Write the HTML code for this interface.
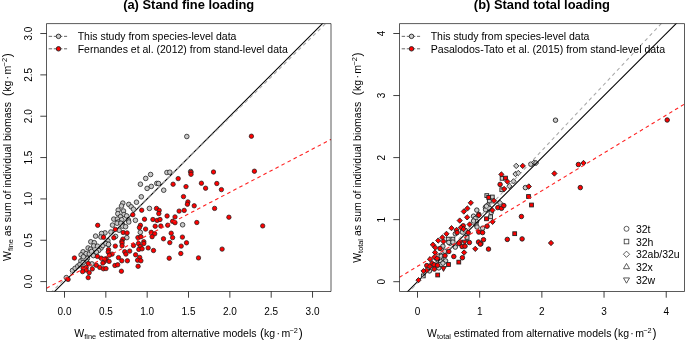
<!DOCTYPE html>
<html><head><meta charset="utf-8"><style>
html,body{margin:0;padding:0;background:#fff;width:685px;height:340px;overflow:hidden}
svg{display:block;will-change:transform}
text{font-family:"Liberation Sans",sans-serif;fill:#000}
</style></head><body>
<svg width="685" height="340" viewBox="0 0 685 340">
<rect width="685" height="340" fill="#fff"/>
<defs>
<clipPath id="cl"><rect x="46.5" y="23.6" width="284.5" height="267.9"/></clipPath>
<clipPath id="cr"><rect x="399.5" y="23.6" width="285.0" height="267.9"/></clipPath>
</defs>
<g clip-path="url(#cl)">
<circle cx="186.8" cy="136.5" r="2.3" fill="#c8c8c8" stroke="#222" stroke-width="0.8"/>
<circle cx="150.6" cy="174.5" r="2.3" fill="#c8c8c8" stroke="#222" stroke-width="0.8"/>
<circle cx="145.7" cy="178.4" r="2.3" fill="#c8c8c8" stroke="#222" stroke-width="0.8"/>
<circle cx="140.4" cy="184.2" r="2.3" fill="#c8c8c8" stroke="#222" stroke-width="0.8"/>
<circle cx="147.1" cy="188.4" r="2.3" fill="#c8c8c8" stroke="#222" stroke-width="0.8"/>
<circle cx="151.3" cy="186.4" r="2.3" fill="#c8c8c8" stroke="#222" stroke-width="0.8"/>
<circle cx="156.8" cy="183.4" r="2.3" fill="#c8c8c8" stroke="#222" stroke-width="0.8"/>
<circle cx="158.5" cy="183.5" r="2.3" fill="#c8c8c8" stroke="#222" stroke-width="0.8"/>
<circle cx="166.9" cy="172.5" r="2.3" fill="#c8c8c8" stroke="#222" stroke-width="0.8"/>
<circle cx="169.8" cy="172.2" r="2.3" fill="#c8c8c8" stroke="#222" stroke-width="0.8"/>
<circle cx="163.7" cy="190.2" r="2.3" fill="#c8c8c8" stroke="#222" stroke-width="0.8"/>
<circle cx="190.7" cy="171.5" r="2.3" fill="#c8c8c8" stroke="#222" stroke-width="0.8"/>
<circle cx="141.3" cy="196.8" r="2.3" fill="#c8c8c8" stroke="#222" stroke-width="0.8"/>
<circle cx="136.5" cy="202.2" r="2.3" fill="#c8c8c8" stroke="#222" stroke-width="0.8"/>
<circle cx="128.8" cy="204.4" r="2.3" fill="#c8c8c8" stroke="#222" stroke-width="0.8"/>
<circle cx="131.2" cy="206.8" r="2.3" fill="#c8c8c8" stroke="#222" stroke-width="0.8"/>
<circle cx="133.5" cy="209.2" r="2.3" fill="#c8c8c8" stroke="#222" stroke-width="0.8"/>
<circle cx="149.4" cy="208.4" r="2.3" fill="#c8c8c8" stroke="#222" stroke-width="0.8"/>
<circle cx="122.8" cy="203.1" r="2.3" fill="#c8c8c8" stroke="#222" stroke-width="0.8"/>
<circle cx="121.5" cy="206.0" r="2.3" fill="#c8c8c8" stroke="#222" stroke-width="0.8"/>
<circle cx="118.2" cy="210.1" r="2.3" fill="#c8c8c8" stroke="#222" stroke-width="0.8"/>
<circle cx="123.5" cy="211.0" r="2.3" fill="#c8c8c8" stroke="#222" stroke-width="0.8"/>
<circle cx="117.8" cy="213.7" r="2.3" fill="#c8c8c8" stroke="#222" stroke-width="0.8"/>
<circle cx="124.0" cy="214.5" r="2.3" fill="#c8c8c8" stroke="#222" stroke-width="0.8"/>
<circle cx="126.6" cy="215.9" r="2.3" fill="#c8c8c8" stroke="#222" stroke-width="0.8"/>
<circle cx="120.4" cy="216.7" r="2.3" fill="#c8c8c8" stroke="#222" stroke-width="0.8"/>
<circle cx="113.8" cy="219.1" r="2.3" fill="#c8c8c8" stroke="#222" stroke-width="0.8"/>
<circle cx="117.4" cy="219.1" r="2.3" fill="#c8c8c8" stroke="#222" stroke-width="0.8"/>
<circle cx="121.8" cy="219.7" r="2.3" fill="#c8c8c8" stroke="#222" stroke-width="0.8"/>
<circle cx="128.4" cy="220.0" r="2.3" fill="#c8c8c8" stroke="#222" stroke-width="0.8"/>
<circle cx="128.8" cy="222.0" r="2.3" fill="#c8c8c8" stroke="#222" stroke-width="0.8"/>
<circle cx="135.4" cy="220.3" r="2.3" fill="#c8c8c8" stroke="#222" stroke-width="0.8"/>
<circle cx="118.2" cy="222.0" r="2.3" fill="#c8c8c8" stroke="#222" stroke-width="0.8"/>
<circle cx="112.5" cy="225.1" r="2.3" fill="#c8c8c8" stroke="#222" stroke-width="0.8"/>
<circle cx="122.7" cy="224.7" r="2.3" fill="#c8c8c8" stroke="#222" stroke-width="0.8"/>
<circle cx="182.6" cy="224.8" r="2.3" fill="#c8c8c8" stroke="#222" stroke-width="0.8"/>
<circle cx="117.1" cy="223.2" r="2.3" fill="#c8c8c8" stroke="#222" stroke-width="0.8"/>
<circle cx="120.9" cy="223.2" r="2.3" fill="#c8c8c8" stroke="#222" stroke-width="0.8"/>
<circle cx="122.6" cy="226.1" r="2.3" fill="#c8c8c8" stroke="#222" stroke-width="0.8"/>
<circle cx="119.1" cy="230.2" r="2.3" fill="#c8c8c8" stroke="#222" stroke-width="0.8"/>
<circle cx="110.9" cy="232.0" r="2.3" fill="#c8c8c8" stroke="#222" stroke-width="0.8"/>
<circle cx="105.0" cy="232.9" r="2.3" fill="#c8c8c8" stroke="#222" stroke-width="0.8"/>
<circle cx="101.5" cy="233.5" r="2.3" fill="#c8c8c8" stroke="#222" stroke-width="0.8"/>
<circle cx="95.6" cy="236.1" r="2.3" fill="#c8c8c8" stroke="#222" stroke-width="0.8"/>
<circle cx="100.9" cy="237.0" r="2.3" fill="#c8c8c8" stroke="#222" stroke-width="0.8"/>
<circle cx="115.6" cy="236.4" r="2.3" fill="#c8c8c8" stroke="#222" stroke-width="0.8"/>
<circle cx="107.9" cy="240.8" r="2.3" fill="#c8c8c8" stroke="#222" stroke-width="0.8"/>
<circle cx="125.6" cy="226.7" r="2.3" fill="#c8c8c8" stroke="#222" stroke-width="0.8"/>
<circle cx="140.3" cy="232.3" r="2.3" fill="#c8c8c8" stroke="#222" stroke-width="0.8"/>
<circle cx="126.8" cy="237.6" r="2.3" fill="#c8c8c8" stroke="#222" stroke-width="0.8"/>
<circle cx="108.5" cy="244.4" r="2.3" fill="#c8c8c8" stroke="#222" stroke-width="0.8"/>
<circle cx="87.4" cy="258.5" r="2.3" fill="#c8c8c8" stroke="#222" stroke-width="0.8"/>
<circle cx="86.2" cy="260.8" r="2.3" fill="#c8c8c8" stroke="#222" stroke-width="0.8"/>
<circle cx="91.9" cy="263.9" r="2.3" fill="#c8c8c8" stroke="#222" stroke-width="0.8"/>
<circle cx="72.5" cy="270.5" r="2.3" fill="#c8c8c8" stroke="#222" stroke-width="0.8"/>
<circle cx="75.1" cy="268.3" r="2.3" fill="#c8c8c8" stroke="#222" stroke-width="0.8"/>
<circle cx="77.8" cy="266.1" r="2.3" fill="#c8c8c8" stroke="#222" stroke-width="0.8"/>
<circle cx="80.0" cy="264.4" r="2.3" fill="#c8c8c8" stroke="#222" stroke-width="0.8"/>
<circle cx="80.9" cy="260.8" r="2.3" fill="#c8c8c8" stroke="#222" stroke-width="0.8"/>
<circle cx="83.1" cy="259.1" r="2.3" fill="#c8c8c8" stroke="#222" stroke-width="0.8"/>
<circle cx="83.1" cy="262.6" r="2.3" fill="#c8c8c8" stroke="#222" stroke-width="0.8"/>
<circle cx="66.3" cy="277.6" r="2.3" fill="#c8c8c8" stroke="#222" stroke-width="0.8"/>
<circle cx="90.8" cy="241.8" r="2.3" fill="#c8c8c8" stroke="#222" stroke-width="0.8"/>
<circle cx="94.3" cy="242.7" r="2.3" fill="#c8c8c8" stroke="#222" stroke-width="0.8"/>
<circle cx="93.7" cy="245.9" r="2.3" fill="#c8c8c8" stroke="#222" stroke-width="0.8"/>
<circle cx="88.1" cy="248.0" r="2.3" fill="#c8c8c8" stroke="#222" stroke-width="0.8"/>
<circle cx="90.5" cy="249.2" r="2.3" fill="#c8c8c8" stroke="#222" stroke-width="0.8"/>
<circle cx="83.1" cy="251.8" r="2.3" fill="#c8c8c8" stroke="#222" stroke-width="0.8"/>
<circle cx="86.1" cy="253.6" r="2.3" fill="#c8c8c8" stroke="#222" stroke-width="0.8"/>
<circle cx="89.3" cy="253.9" r="2.3" fill="#c8c8c8" stroke="#222" stroke-width="0.8"/>
<circle cx="81.1" cy="254.8" r="2.3" fill="#c8c8c8" stroke="#222" stroke-width="0.8"/>
<circle cx="83.4" cy="256.8" r="2.3" fill="#c8c8c8" stroke="#222" stroke-width="0.8"/>
<circle cx="91.6" cy="251.5" r="2.3" fill="#c8c8c8" stroke="#222" stroke-width="0.8"/>
<circle cx="101.1" cy="248.0" r="2.3" fill="#c8c8c8" stroke="#222" stroke-width="0.8"/>
<circle cx="102.8" cy="245.6" r="2.3" fill="#c8c8c8" stroke="#222" stroke-width="0.8"/>
<circle cx="98.7" cy="250.4" r="2.3" fill="#c8c8c8" stroke="#222" stroke-width="0.8"/>
<circle cx="96.4" cy="252.1" r="2.3" fill="#c8c8c8" stroke="#222" stroke-width="0.8"/>
<circle cx="93.4" cy="255.6" r="2.3" fill="#c8c8c8" stroke="#222" stroke-width="0.8"/>
<circle cx="97.5" cy="246.2" r="2.3" fill="#c8c8c8" stroke="#222" stroke-width="0.8"/>
<circle cx="106.0" cy="243.5" r="2.3" fill="#c8c8c8" stroke="#222" stroke-width="0.8"/>
<circle cx="108.5" cy="244.4" r="2.3" fill="#c8c8c8" stroke="#222" stroke-width="0.8"/>
</g>
<line x1="46.50" y1="299.60" x2="331.00" y2="15.07" stroke="#000" stroke-width="1.05" clip-path="url(#cl)"/>
<line x1="46.50" y1="296.91" x2="331.00" y2="18.35" stroke="#a8a8a8" stroke-width="1.05" stroke-dasharray="3.6 3.2" stroke-dashoffset="1" clip-path="url(#cl)"/>
<g clip-path="url(#cl)">
<circle cx="251.4" cy="136.2" r="2.2" fill="#ff0000" stroke="#222" stroke-width="0.75"/>
<circle cx="178.2" cy="178.6" r="2.2" fill="#ff0000" stroke="#222" stroke-width="0.75"/>
<circle cx="173.1" cy="184.2" r="2.2" fill="#ff0000" stroke="#222" stroke-width="0.75"/>
<circle cx="186.0" cy="186.6" r="2.2" fill="#ff0000" stroke="#222" stroke-width="0.75"/>
<circle cx="190.9" cy="172.3" r="2.2" fill="#ff0000" stroke="#222" stroke-width="0.75"/>
<circle cx="191.0" cy="174.3" r="2.2" fill="#ff0000" stroke="#222" stroke-width="0.75"/>
<circle cx="201.4" cy="183.2" r="2.2" fill="#ff0000" stroke="#222" stroke-width="0.75"/>
<circle cx="205.6" cy="188.2" r="2.2" fill="#ff0000" stroke="#222" stroke-width="0.75"/>
<circle cx="213.5" cy="172.0" r="2.2" fill="#ff0000" stroke="#222" stroke-width="0.75"/>
<circle cx="254.4" cy="171.2" r="2.2" fill="#ff0000" stroke="#222" stroke-width="0.75"/>
<circle cx="216.8" cy="183.5" r="2.2" fill="#ff0000" stroke="#222" stroke-width="0.75"/>
<circle cx="221.4" cy="189.6" r="2.2" fill="#ff0000" stroke="#222" stroke-width="0.75"/>
<circle cx="141.7" cy="210.2" r="2.2" fill="#ff0000" stroke="#222" stroke-width="0.75"/>
<circle cx="132.8" cy="214.7" r="2.2" fill="#ff0000" stroke="#222" stroke-width="0.75"/>
<circle cx="156.5" cy="208.4" r="2.2" fill="#ff0000" stroke="#222" stroke-width="0.75"/>
<circle cx="159.2" cy="210.4" r="2.2" fill="#ff0000" stroke="#222" stroke-width="0.75"/>
<circle cx="158.8" cy="213.6" r="2.2" fill="#ff0000" stroke="#222" stroke-width="0.75"/>
<circle cx="167.1" cy="216.0" r="2.2" fill="#ff0000" stroke="#222" stroke-width="0.75"/>
<circle cx="144.5" cy="219.2" r="2.2" fill="#ff0000" stroke="#222" stroke-width="0.75"/>
<circle cx="152.9" cy="219.5" r="2.2" fill="#ff0000" stroke="#222" stroke-width="0.75"/>
<circle cx="157.1" cy="220.4" r="2.2" fill="#ff0000" stroke="#222" stroke-width="0.75"/>
<circle cx="160.0" cy="219.5" r="2.2" fill="#ff0000" stroke="#222" stroke-width="0.75"/>
<circle cx="97.7" cy="225.3" r="2.2" fill="#ff0000" stroke="#222" stroke-width="0.75"/>
<circle cx="140.4" cy="225.3" r="2.2" fill="#ff0000" stroke="#222" stroke-width="0.75"/>
<circle cx="155.2" cy="226.2" r="2.2" fill="#ff0000" stroke="#222" stroke-width="0.75"/>
<circle cx="160.8" cy="226.0" r="2.2" fill="#ff0000" stroke="#222" stroke-width="0.75"/>
<circle cx="167.7" cy="225.2" r="2.2" fill="#ff0000" stroke="#222" stroke-width="0.75"/>
<circle cx="183.5" cy="196.6" r="2.2" fill="#ff0000" stroke="#222" stroke-width="0.75"/>
<circle cx="187.9" cy="201.9" r="2.2" fill="#ff0000" stroke="#222" stroke-width="0.75"/>
<circle cx="187.4" cy="204.2" r="2.2" fill="#ff0000" stroke="#222" stroke-width="0.75"/>
<circle cx="194.2" cy="205.8" r="2.2" fill="#ff0000" stroke="#222" stroke-width="0.75"/>
<circle cx="214.6" cy="208.4" r="2.2" fill="#ff0000" stroke="#222" stroke-width="0.75"/>
<circle cx="179.1" cy="211.1" r="2.2" fill="#ff0000" stroke="#222" stroke-width="0.75"/>
<circle cx="184.2" cy="210.4" r="2.2" fill="#ff0000" stroke="#222" stroke-width="0.75"/>
<circle cx="175.0" cy="216.9" r="2.2" fill="#ff0000" stroke="#222" stroke-width="0.75"/>
<circle cx="228.9" cy="217.2" r="2.2" fill="#ff0000" stroke="#222" stroke-width="0.75"/>
<circle cx="172.6" cy="221.3" r="2.2" fill="#ff0000" stroke="#222" stroke-width="0.75"/>
<circle cx="175.0" cy="222.7" r="2.2" fill="#ff0000" stroke="#222" stroke-width="0.75"/>
<circle cx="196.8" cy="222.5" r="2.2" fill="#ff0000" stroke="#222" stroke-width="0.75"/>
<circle cx="262.7" cy="225.9" r="2.2" fill="#ff0000" stroke="#222" stroke-width="0.75"/>
<circle cx="115.3" cy="229.4" r="2.2" fill="#ff0000" stroke="#222" stroke-width="0.75"/>
<circle cx="103.5" cy="237.2" r="2.2" fill="#ff0000" stroke="#222" stroke-width="0.75"/>
<circle cx="113.8" cy="237.8" r="2.2" fill="#ff0000" stroke="#222" stroke-width="0.75"/>
<circle cx="123.2" cy="232.5" r="2.2" fill="#ff0000" stroke="#222" stroke-width="0.75"/>
<circle cx="122.9" cy="239.1" r="2.2" fill="#ff0000" stroke="#222" stroke-width="0.75"/>
<circle cx="121.8" cy="241.4" r="2.2" fill="#ff0000" stroke="#222" stroke-width="0.75"/>
<circle cx="127.1" cy="232.9" r="2.2" fill="#ff0000" stroke="#222" stroke-width="0.75"/>
<circle cx="139.4" cy="227.6" r="2.2" fill="#ff0000" stroke="#222" stroke-width="0.75"/>
<circle cx="145.6" cy="229.1" r="2.2" fill="#ff0000" stroke="#222" stroke-width="0.75"/>
<circle cx="151.2" cy="232.3" r="2.2" fill="#ff0000" stroke="#222" stroke-width="0.75"/>
<circle cx="154.7" cy="233.8" r="2.2" fill="#ff0000" stroke="#222" stroke-width="0.75"/>
<circle cx="152.1" cy="236.7" r="2.2" fill="#ff0000" stroke="#222" stroke-width="0.75"/>
<circle cx="137.9" cy="237.6" r="2.2" fill="#ff0000" stroke="#222" stroke-width="0.75"/>
<circle cx="140.9" cy="236.7" r="2.2" fill="#ff0000" stroke="#222" stroke-width="0.75"/>
<circle cx="163.5" cy="238.8" r="2.2" fill="#ff0000" stroke="#222" stroke-width="0.75"/>
<circle cx="143.8" cy="241.7" r="2.2" fill="#ff0000" stroke="#222" stroke-width="0.75"/>
<circle cx="115.3" cy="246.1" r="2.2" fill="#ff0000" stroke="#222" stroke-width="0.75"/>
<circle cx="122.1" cy="242.9" r="2.2" fill="#ff0000" stroke="#222" stroke-width="0.75"/>
<circle cx="122.1" cy="245.8" r="2.2" fill="#ff0000" stroke="#222" stroke-width="0.75"/>
<circle cx="108.5" cy="249.6" r="2.2" fill="#ff0000" stroke="#222" stroke-width="0.75"/>
<circle cx="108.2" cy="252.0" r="2.2" fill="#ff0000" stroke="#222" stroke-width="0.75"/>
<circle cx="112.1" cy="254.1" r="2.2" fill="#ff0000" stroke="#222" stroke-width="0.75"/>
<circle cx="109.4" cy="255.2" r="2.2" fill="#ff0000" stroke="#222" stroke-width="0.75"/>
<circle cx="97.4" cy="256.4" r="2.2" fill="#ff0000" stroke="#222" stroke-width="0.75"/>
<circle cx="101.2" cy="258.2" r="2.2" fill="#ff0000" stroke="#222" stroke-width="0.75"/>
<circle cx="106.2" cy="258.8" r="2.2" fill="#ff0000" stroke="#222" stroke-width="0.75"/>
<circle cx="109.1" cy="261.4" r="2.2" fill="#ff0000" stroke="#222" stroke-width="0.75"/>
<circle cx="118.5" cy="257.6" r="2.2" fill="#ff0000" stroke="#222" stroke-width="0.75"/>
<circle cx="121.8" cy="260.8" r="2.2" fill="#ff0000" stroke="#222" stroke-width="0.75"/>
<circle cx="124.7" cy="251.7" r="2.2" fill="#ff0000" stroke="#222" stroke-width="0.75"/>
<circle cx="104.4" cy="261.4" r="2.2" fill="#ff0000" stroke="#222" stroke-width="0.75"/>
<circle cx="133.5" cy="245.5" r="2.2" fill="#ff0000" stroke="#222" stroke-width="0.75"/>
<circle cx="138.5" cy="243.5" r="2.2" fill="#ff0000" stroke="#222" stroke-width="0.75"/>
<circle cx="140.3" cy="246.4" r="2.2" fill="#ff0000" stroke="#222" stroke-width="0.75"/>
<circle cx="138.8" cy="249.4" r="2.2" fill="#ff0000" stroke="#222" stroke-width="0.75"/>
<circle cx="142.1" cy="248.8" r="2.2" fill="#ff0000" stroke="#222" stroke-width="0.75"/>
<circle cx="143.8" cy="243.5" r="2.2" fill="#ff0000" stroke="#222" stroke-width="0.75"/>
<circle cx="148.2" cy="247.9" r="2.2" fill="#ff0000" stroke="#222" stroke-width="0.75"/>
<circle cx="153.5" cy="250.5" r="2.2" fill="#ff0000" stroke="#222" stroke-width="0.75"/>
<circle cx="129.7" cy="251.1" r="2.2" fill="#ff0000" stroke="#222" stroke-width="0.75"/>
<circle cx="125.9" cy="254.1" r="2.2" fill="#ff0000" stroke="#222" stroke-width="0.75"/>
<circle cx="135.6" cy="254.8" r="2.2" fill="#ff0000" stroke="#222" stroke-width="0.75"/>
<circle cx="139.7" cy="257.4" r="2.2" fill="#ff0000" stroke="#222" stroke-width="0.75"/>
<circle cx="137.6" cy="260.2" r="2.2" fill="#ff0000" stroke="#222" stroke-width="0.75"/>
<circle cx="140.9" cy="260.8" r="2.2" fill="#ff0000" stroke="#222" stroke-width="0.75"/>
<circle cx="127.4" cy="260.8" r="2.2" fill="#ff0000" stroke="#222" stroke-width="0.75"/>
<circle cx="171.2" cy="233.2" r="2.2" fill="#ff0000" stroke="#222" stroke-width="0.75"/>
<circle cx="172.6" cy="237.6" r="2.2" fill="#ff0000" stroke="#222" stroke-width="0.75"/>
<circle cx="182.4" cy="237.1" r="2.2" fill="#ff0000" stroke="#222" stroke-width="0.75"/>
<circle cx="169.8" cy="242.6" r="2.2" fill="#ff0000" stroke="#222" stroke-width="0.75"/>
<circle cx="186.5" cy="242.8" r="2.2" fill="#ff0000" stroke="#222" stroke-width="0.75"/>
<circle cx="181.2" cy="246.1" r="2.2" fill="#ff0000" stroke="#222" stroke-width="0.75"/>
<circle cx="222.1" cy="249.1" r="2.2" fill="#ff0000" stroke="#222" stroke-width="0.75"/>
<circle cx="180.8" cy="253.5" r="2.2" fill="#ff0000" stroke="#222" stroke-width="0.75"/>
<circle cx="169.2" cy="258.2" r="2.2" fill="#ff0000" stroke="#222" stroke-width="0.75"/>
<circle cx="198.5" cy="257.9" r="2.2" fill="#ff0000" stroke="#222" stroke-width="0.75"/>
<circle cx="74.4" cy="258.0" r="2.2" fill="#ff0000" stroke="#222" stroke-width="0.75"/>
<circle cx="104.7" cy="259.1" r="2.2" fill="#ff0000" stroke="#222" stroke-width="0.75"/>
<circle cx="102.9" cy="263.0" r="2.2" fill="#ff0000" stroke="#222" stroke-width="0.75"/>
<circle cx="88.2" cy="263.5" r="2.2" fill="#ff0000" stroke="#222" stroke-width="0.75"/>
<circle cx="96.3" cy="265.2" r="2.2" fill="#ff0000" stroke="#222" stroke-width="0.75"/>
<circle cx="83.1" cy="268.1" r="2.2" fill="#ff0000" stroke="#222" stroke-width="0.75"/>
<circle cx="86.2" cy="267.4" r="2.2" fill="#ff0000" stroke="#222" stroke-width="0.75"/>
<circle cx="86.2" cy="270.1" r="2.2" fill="#ff0000" stroke="#222" stroke-width="0.75"/>
<circle cx="82.6" cy="271.6" r="2.2" fill="#ff0000" stroke="#222" stroke-width="0.75"/>
<circle cx="92.3" cy="268.9" r="2.2" fill="#ff0000" stroke="#222" stroke-width="0.75"/>
<circle cx="99.8" cy="267.4" r="2.2" fill="#ff0000" stroke="#222" stroke-width="0.75"/>
<circle cx="103.4" cy="268.8" r="2.2" fill="#ff0000" stroke="#222" stroke-width="0.75"/>
<circle cx="89.2" cy="272.7" r="2.2" fill="#ff0000" stroke="#222" stroke-width="0.75"/>
<circle cx="88.2" cy="277.6" r="2.2" fill="#ff0000" stroke="#222" stroke-width="0.75"/>
<circle cx="68.1" cy="279.4" r="2.2" fill="#ff0000" stroke="#222" stroke-width="0.75"/>
<circle cx="114.9" cy="265.5" r="2.2" fill="#ff0000" stroke="#222" stroke-width="0.75"/>
<circle cx="117.7" cy="264.8" r="2.2" fill="#ff0000" stroke="#222" stroke-width="0.75"/>
<circle cx="106.0" cy="268.6" r="2.2" fill="#ff0000" stroke="#222" stroke-width="0.75"/>
<circle cx="121.4" cy="271.2" r="2.2" fill="#ff0000" stroke="#222" stroke-width="0.75"/>
<circle cx="138.1" cy="266.3" r="2.2" fill="#ff0000" stroke="#222" stroke-width="0.75"/>
</g>
<line x1="46.50" y1="288.20" x2="331.00" y2="139.39" stroke="#ff2020" stroke-width="1.1" stroke-dasharray="3.6 3.2" clip-path="url(#cl)"/>
<g clip-path="url(#cr)">
<circle cx="555.5" cy="120.2" r="2.25" fill="#cdcdcd" stroke="#222" stroke-width="0.9"/>
<path d="M516.2 163.2L518.9 165.9L516.2 168.6L513.6 165.9Z" fill="#cdcdcd" stroke="#222" stroke-width="0.9"/>
<circle cx="530.8" cy="164.2" r="2.25" fill="#cdcdcd" stroke="#222" stroke-width="0.9"/>
<path d="M534.2 159.9L536.9 162.6L534.2 165.2L531.6 162.6Z" fill="#cdcdcd" stroke="#222" stroke-width="0.9"/>
<path d="M536.0 160.3L538.6 163.0L536.0 165.7L533.4 163.0Z" fill="#cdcdcd" stroke="#222" stroke-width="0.9"/>
<path d="M515.5 171.3L518.1 174.0L515.5 176.7L512.9 174.0Z" fill="#cdcdcd" stroke="#222" stroke-width="0.9"/>
<path d="M518.3 170.3L520.9 173.0L518.3 175.7L515.6 173.0Z" fill="#cdcdcd" stroke="#222" stroke-width="0.9"/>
<rect x="500.2" y="176.4" width="3.8" height="3.8" fill="#cdcdcd" stroke="#222" stroke-width="0.9"/>
<path d="M513.5 178.7L516.1 181.3L513.5 184.0L510.9 181.3Z" fill="#cdcdcd" stroke="#222" stroke-width="0.9"/>
<path d="M509.4 183.4L512.0 186.1L509.4 188.8L506.8 186.1Z" fill="#cdcdcd" stroke="#222" stroke-width="0.9"/>
<circle cx="525.4" cy="187.6" r="2.25" fill="#cdcdcd" stroke="#222" stroke-width="0.9"/>
<rect x="484.9" y="193.7" width="3.8" height="3.8" fill="#cdcdcd" stroke="#222" stroke-width="0.9"/>
<rect x="490.4" y="195.1" width="3.8" height="3.8" fill="#cdcdcd" stroke="#222" stroke-width="0.9"/>
<rect x="487.4" y="199.1" width="3.8" height="3.8" fill="#cdcdcd" stroke="#222" stroke-width="0.9"/>
<path d="M500.0 200.2L502.6 202.9L500.0 205.6L497.4 202.9Z" fill="#cdcdcd" stroke="#222" stroke-width="0.9"/>
<circle cx="487.9" cy="205.1" r="2.25" fill="#cdcdcd" stroke="#222" stroke-width="0.9"/>
<circle cx="485.4" cy="207.3" r="2.25" fill="#cdcdcd" stroke="#222" stroke-width="0.9"/>
<circle cx="485.6" cy="209.7" r="2.25" fill="#cdcdcd" stroke="#222" stroke-width="0.9"/>
<circle cx="489.7" cy="208.4" r="2.25" fill="#cdcdcd" stroke="#222" stroke-width="0.9"/>
<circle cx="476.8" cy="210.1" r="2.25" fill="#cdcdcd" stroke="#222" stroke-width="0.9"/>
<circle cx="491.2" cy="212.6" r="2.25" fill="#cdcdcd" stroke="#222" stroke-width="0.9"/>
<rect x="499.9" y="187.8" width="3.8" height="3.8" fill="#cdcdcd" stroke="#222" stroke-width="0.9"/>
<circle cx="473.5" cy="216.2" r="2.25" fill="#cdcdcd" stroke="#222" stroke-width="0.9"/>
<circle cx="475.3" cy="218.5" r="2.25" fill="#cdcdcd" stroke="#222" stroke-width="0.9"/>
<circle cx="476.5" cy="221.5" r="2.25" fill="#cdcdcd" stroke="#222" stroke-width="0.9"/>
<rect x="488.7" y="214.9" width="3.8" height="3.8" fill="#cdcdcd" stroke="#222" stroke-width="0.9"/>
<circle cx="486.5" cy="206.2" r="2.25" fill="#cdcdcd" stroke="#222" stroke-width="0.9"/>
<circle cx="482.6" cy="228.2" r="2.25" fill="#cdcdcd" stroke="#222" stroke-width="0.9"/>
<circle cx="473.5" cy="221.0" r="2.25" fill="#cdcdcd" stroke="#222" stroke-width="0.9"/>
<circle cx="476.0" cy="224.5" r="2.25" fill="#cdcdcd" stroke="#222" stroke-width="0.9"/>
<circle cx="477.0" cy="227.0" r="2.25" fill="#cdcdcd" stroke="#222" stroke-width="0.9"/>
<rect x="446.3" y="237.2" width="3.8" height="3.8" fill="#cdcdcd" stroke="#222" stroke-width="0.9"/>
<rect x="451.0" y="237.2" width="3.8" height="3.8" fill="#cdcdcd" stroke="#222" stroke-width="0.9"/>
<circle cx="462.4" cy="232.1" r="2.25" fill="#cdcdcd" stroke="#222" stroke-width="0.9"/>
<circle cx="455.3" cy="233.8" r="2.25" fill="#cdcdcd" stroke="#222" stroke-width="0.9"/>
<circle cx="465.3" cy="230.3" r="2.25" fill="#cdcdcd" stroke="#222" stroke-width="0.9"/>
<rect x="465.2" y="235.5" width="3.8" height="3.8" fill="#cdcdcd" stroke="#222" stroke-width="0.9"/>
<circle cx="450.0" cy="243.2" r="2.25" fill="#cdcdcd" stroke="#222" stroke-width="0.9"/>
<circle cx="448.8" cy="242.4" r="2.25" fill="#cdcdcd" stroke="#222" stroke-width="0.9"/>
<circle cx="452.9" cy="242.1" r="2.25" fill="#cdcdcd" stroke="#222" stroke-width="0.9"/>
<circle cx="442.9" cy="246.2" r="2.25" fill="#cdcdcd" stroke="#222" stroke-width="0.9"/>
<circle cx="444.7" cy="251.2" r="2.25" fill="#cdcdcd" stroke="#222" stroke-width="0.9"/>
<circle cx="455.3" cy="247.1" r="2.25" fill="#cdcdcd" stroke="#222" stroke-width="0.9"/>
<circle cx="440.6" cy="255.3" r="2.25" fill="#cdcdcd" stroke="#222" stroke-width="0.9"/>
<circle cx="437.1" cy="259.4" r="2.25" fill="#cdcdcd" stroke="#222" stroke-width="0.9"/>
<circle cx="441.2" cy="258.8" r="2.25" fill="#cdcdcd" stroke="#222" stroke-width="0.9"/>
<circle cx="445.6" cy="260.9" r="2.25" fill="#cdcdcd" stroke="#222" stroke-width="0.9"/>
<path d="M440.6 257.7L443.4 262.5L437.8 262.5Z" fill="#cdcdcd" stroke="#222" stroke-width="0.9"/>
<circle cx="442.9" cy="263.2" r="2.25" fill="#cdcdcd" stroke="#222" stroke-width="0.9"/>
<circle cx="438.8" cy="267.9" r="2.25" fill="#cdcdcd" stroke="#222" stroke-width="0.9"/>
<circle cx="438.2" cy="256.2" r="2.25" fill="#cdcdcd" stroke="#222" stroke-width="0.9"/>
<circle cx="441.2" cy="256.2" r="2.25" fill="#cdcdcd" stroke="#222" stroke-width="0.9"/>
<circle cx="429.5" cy="270.9" r="2.25" fill="#cdcdcd" stroke="#222" stroke-width="0.9"/>
<rect x="421.4" y="274.0" width="3.8" height="3.8" fill="#cdcdcd" stroke="#222" stroke-width="0.9"/>
</g>
<line x1="399.50" y1="299.66" x2="684.50" y2="15.26" stroke="#000" stroke-width="1.05" clip-path="url(#cr)"/>
<line x1="399.50" y1="302.03" x2="684.50" y2="-1.15" stroke="#a8a8a8" stroke-width="1.05" stroke-dasharray="3.6 3.2" stroke-dashoffset="2" clip-path="url(#cr)"/>
<g clip-path="url(#cr)">
<circle cx="667.2" cy="120.0" r="2.25" fill="#ff0000" stroke="#222" stroke-width="0.9"/>
<circle cx="578.4" cy="164.5" r="2.25" fill="#ff0000" stroke="#222" stroke-width="0.9"/>
<path d="M583.5 160.3L586.1 163.0L583.5 165.7L580.9 163.0Z" fill="#ff0000" stroke="#222" stroke-width="0.9"/>
<circle cx="580.3" cy="187.6" r="2.25" fill="#ff0000" stroke="#222" stroke-width="0.9"/>
<path d="M554.4 170.8L557.0 173.5L554.4 176.2L551.8 173.5Z" fill="#ff0000" stroke="#222" stroke-width="0.9"/>
<path d="M551.0 240.3L553.6 243.0L551.0 245.7L548.4 243.0Z" fill="#ff0000" stroke="#222" stroke-width="0.9"/>
<path d="M522.7 163.2L525.4 165.9L522.7 168.6L520.1 165.9Z" fill="#ff0000" stroke="#222" stroke-width="0.9"/>
<path d="M501.4 171.8L504.0 174.4L501.4 177.1L498.8 174.4Z" fill="#ff0000" stroke="#222" stroke-width="0.9"/>
<rect x="503.6" y="176.2" width="3.8" height="3.8" fill="#ff0000" stroke="#222" stroke-width="0.9"/>
<path d="M507.4 178.9L510.0 181.6L507.4 184.2L504.8 181.6Z" fill="#ff0000" stroke="#222" stroke-width="0.9"/>
<circle cx="500.1" cy="184.4" r="2.25" fill="#ff0000" stroke="#222" stroke-width="0.9"/>
<path d="M504.1 186.3L506.8 189.0L504.1 191.7L501.5 189.0Z" fill="#ff0000" stroke="#222" stroke-width="0.9"/>
<path d="M528.8 183.8L531.4 186.5L528.8 189.2L526.1 186.5Z" fill="#ff0000" stroke="#222" stroke-width="0.9"/>
<rect x="526.6" y="194.6" width="3.8" height="3.8" fill="#ff0000" stroke="#222" stroke-width="0.9"/>
<rect x="529.6" y="203.1" width="3.8" height="3.8" fill="#ff0000" stroke="#222" stroke-width="0.9"/>
<rect x="486.8" y="195.5" width="3.8" height="3.8" fill="#ff0000" stroke="#222" stroke-width="0.9"/>
<path d="M494.0 198.2L496.6 200.8L494.0 203.5L491.4 200.8Z" fill="#ff0000" stroke="#222" stroke-width="0.9"/>
<circle cx="497.8" cy="207.6" r="2.25" fill="#ff0000" stroke="#222" stroke-width="0.9"/>
<circle cx="501.5" cy="208.3" r="2.25" fill="#ff0000" stroke="#222" stroke-width="0.9"/>
<circle cx="503.8" cy="205.6" r="2.25" fill="#ff0000" stroke="#222" stroke-width="0.9"/>
<path d="M492.4 207.7L495.0 210.3L492.4 213.0L489.8 210.3Z" fill="#ff0000" stroke="#222" stroke-width="0.9"/>
<path d="M470.8 200.2L473.4 202.8L470.8 205.5L468.2 202.8Z" fill="#ff0000" stroke="#222" stroke-width="0.9"/>
<circle cx="478.8" cy="214.4" r="2.25" fill="#ff0000" stroke="#222" stroke-width="0.9"/>
<path d="M467.4 205.8L470.0 208.4L467.4 211.1L464.8 208.4Z" fill="#ff0000" stroke="#222" stroke-width="0.9"/>
<path d="M463.8 208.8L466.4 211.5L463.8 214.2L461.2 211.5Z" fill="#ff0000" stroke="#222" stroke-width="0.9"/>
<path d="M467.1 214.7L469.8 217.3L467.1 220.0L464.5 217.3Z" fill="#ff0000" stroke="#222" stroke-width="0.9"/>
<path d="M459.7 217.9L462.3 220.6L459.7 223.2L457.1 220.6Z" fill="#ff0000" stroke="#222" stroke-width="0.9"/>
<path d="M469.6 221.8L472.2 224.4L469.6 227.1L467.0 224.4Z" fill="#ff0000" stroke="#222" stroke-width="0.9"/>
<circle cx="463.2" cy="225.8" r="2.25" fill="#ff0000" stroke="#222" stroke-width="0.9"/>
<path d="M478.8 212.7L481.4 215.3L478.8 218.0L476.2 215.3Z" fill="#ff0000" stroke="#222" stroke-width="0.9"/>
<rect x="484.6" y="216.9" width="3.8" height="3.8" fill="#ff0000" stroke="#222" stroke-width="0.9"/>
<path d="M492.6 219.2L495.2 221.8L492.6 224.5L490.0 221.8Z" fill="#ff0000" stroke="#222" stroke-width="0.9"/>
<circle cx="521.4" cy="216.5" r="2.25" fill="#ff0000" stroke="#222" stroke-width="0.9"/>
<rect x="512.8" y="231.8" width="3.8" height="3.8" fill="#ff0000" stroke="#222" stroke-width="0.9"/>
<circle cx="507.3" cy="239.4" r="2.25" fill="#ff0000" stroke="#222" stroke-width="0.9"/>
<circle cx="522.1" cy="238.9" r="2.25" fill="#ff0000" stroke="#222" stroke-width="0.9"/>
<path d="M451.5 225.5L454.1 228.2L451.5 230.8L448.9 228.2Z" fill="#ff0000" stroke="#222" stroke-width="0.9"/>
<path d="M446.5 231.2L449.1 233.8L446.5 236.5L443.9 233.8Z" fill="#ff0000" stroke="#222" stroke-width="0.9"/>
<path d="M442.4 234.8L445.0 237.4L442.4 240.1L439.8 237.4Z" fill="#ff0000" stroke="#222" stroke-width="0.9"/>
<path d="M443.5 238.8L446.1 241.5L443.5 244.2L440.9 241.5Z" fill="#ff0000" stroke="#222" stroke-width="0.9"/>
<path d="M456.5 227.3L459.1 230.0L456.5 232.7L453.9 230.0Z" fill="#ff0000" stroke="#222" stroke-width="0.9"/>
<circle cx="457.1" cy="232.6" r="2.25" fill="#ff0000" stroke="#222" stroke-width="0.9"/>
<path d="M460.9 224.9L463.5 227.6L460.9 230.2L458.2 227.6Z" fill="#ff0000" stroke="#222" stroke-width="0.9"/>
<path d="M463.5 226.4L466.1 229.1L463.5 231.8L460.9 229.1Z" fill="#ff0000" stroke="#222" stroke-width="0.9"/>
<circle cx="468.2" cy="232.6" r="2.25" fill="#ff0000" stroke="#222" stroke-width="0.9"/>
<circle cx="469.4" cy="242.5" r="2.25" fill="#ff0000" stroke="#222" stroke-width="0.9"/>
<path d="M464.7 245.0L467.5 240.2L461.9 240.2Z" fill="#ff0000" stroke="#222" stroke-width="0.9"/>
<circle cx="460.0" cy="242.1" r="2.25" fill="#ff0000" stroke="#222" stroke-width="0.9"/>
<circle cx="478.8" cy="232.1" r="2.25" fill="#ff0000" stroke="#222" stroke-width="0.9"/>
<circle cx="478.5" cy="242.0" r="2.25" fill="#ff0000" stroke="#222" stroke-width="0.9"/>
<circle cx="487.1" cy="226.2" r="2.25" fill="#ff0000" stroke="#222" stroke-width="0.9"/>
<circle cx="482.6" cy="232.6" r="2.25" fill="#ff0000" stroke="#222" stroke-width="0.9"/>
<circle cx="483.5" cy="239.7" r="2.25" fill="#ff0000" stroke="#222" stroke-width="0.9"/>
<circle cx="480.9" cy="243.8" r="2.25" fill="#ff0000" stroke="#222" stroke-width="0.9"/>
<path d="M438.2 237.9L440.8 240.6L438.2 243.2L435.6 240.6Z" fill="#ff0000" stroke="#222" stroke-width="0.9"/>
<path d="M432.9 242.0L435.5 244.7L432.9 247.3L430.2 244.7Z" fill="#ff0000" stroke="#222" stroke-width="0.9"/>
<path d="M435.3 244.9L437.9 247.6L435.3 250.2L432.7 247.6Z" fill="#ff0000" stroke="#222" stroke-width="0.9"/>
<circle cx="440.0" cy="248.5" r="2.25" fill="#ff0000" stroke="#222" stroke-width="0.9"/>
<path d="M435.0 249.8L437.6 252.4L435.0 255.1L432.4 252.4Z" fill="#ff0000" stroke="#222" stroke-width="0.9"/>
<path d="M434.3 254.5L436.9 257.2L434.3 259.8L431.7 257.2Z" fill="#ff0000" stroke="#222" stroke-width="0.9"/>
<path d="M430.0 256.6L432.6 259.2L430.0 261.8L427.4 259.2Z" fill="#ff0000" stroke="#222" stroke-width="0.9"/>
<circle cx="448.8" cy="251.5" r="2.25" fill="#ff0000" stroke="#222" stroke-width="0.9"/>
<circle cx="445.0" cy="255.7" r="2.25" fill="#ff0000" stroke="#222" stroke-width="0.9"/>
<circle cx="453.8" cy="256.5" r="2.25" fill="#ff0000" stroke="#222" stroke-width="0.9"/>
<circle cx="458.8" cy="243.5" r="2.25" fill="#ff0000" stroke="#222" stroke-width="0.9"/>
<circle cx="462.1" cy="246.5" r="2.25" fill="#ff0000" stroke="#222" stroke-width="0.9"/>
<circle cx="465.0" cy="246.2" r="2.25" fill="#ff0000" stroke="#222" stroke-width="0.9"/>
<path d="M475.3 246.2L477.9 248.8L475.3 251.5L472.7 248.8Z" fill="#ff0000" stroke="#222" stroke-width="0.9"/>
<circle cx="488.5" cy="249.1" r="2.25" fill="#ff0000" stroke="#222" stroke-width="0.9"/>
<circle cx="480.3" cy="244.1" r="2.25" fill="#ff0000" stroke="#222" stroke-width="0.9"/>
<path d="M464.1 249.8L466.8 252.5L464.1 255.2L461.5 252.5Z" fill="#ff0000" stroke="#222" stroke-width="0.9"/>
<circle cx="462.4" cy="257.7" r="2.25" fill="#ff0000" stroke="#222" stroke-width="0.9"/>
<path d="M437.1 255.8L439.8 258.5L437.1 261.1L434.5 258.5Z" fill="#ff0000" stroke="#222" stroke-width="0.9"/>
<path d="M432.1 260.6L434.8 263.2L432.1 265.8L429.5 263.2Z" fill="#ff0000" stroke="#222" stroke-width="0.9"/>
<circle cx="426.8" cy="265.6" r="2.25" fill="#ff0000" stroke="#222" stroke-width="0.9"/>
<path d="M429.7 263.9L432.3 266.5L429.7 269.1L427.1 266.5Z" fill="#ff0000" stroke="#222" stroke-width="0.9"/>
<circle cx="434.1" cy="264.7" r="2.25" fill="#ff0000" stroke="#222" stroke-width="0.9"/>
<circle cx="437.6" cy="265.3" r="2.25" fill="#ff0000" stroke="#222" stroke-width="0.9"/>
<circle cx="434.3" cy="269.1" r="2.25" fill="#ff0000" stroke="#222" stroke-width="0.9"/>
<path d="M426.5 267.8L429.1 270.4L426.5 273.0L423.9 270.4Z" fill="#ff0000" stroke="#222" stroke-width="0.9"/>
<path d="M423.5 268.4L426.1 271.0L423.5 273.6L420.9 271.0Z" fill="#ff0000" stroke="#222" stroke-width="0.9"/>
<path d="M443.5 271.4L446.3 266.6L440.7 266.6Z" fill="#ff0000" stroke="#222" stroke-width="0.9"/>
<rect x="446.6" y="262.6" width="3.8" height="3.8" fill="#ff0000" stroke="#222" stroke-width="0.9"/>
<rect x="435.8" y="273.1" width="3.8" height="3.8" fill="#ff0000" stroke="#222" stroke-width="0.9"/>
<rect x="456.9" y="260.2" width="3.8" height="3.8" fill="#ff0000" stroke="#222" stroke-width="0.9"/>
<path d="M418.5 277.5L421.1 280.1L418.5 282.8L415.9 280.1Z" fill="#ff0000" stroke="#222" stroke-width="0.9"/>
</g>
<line x1="399.50" y1="277.25" x2="684.50" y2="104.05" stroke="#ff2020" stroke-width="1.1" stroke-dasharray="3.63 3.23" clip-path="url(#cr)"/>
<path d="M46.5 23.6H331.0V291.5H46.5Z" fill="none" stroke="#000" stroke-width="0.65"/>
<path d="M399.5 23.6H684.5V291.5H399.5Z" fill="none" stroke="#000" stroke-width="0.65"/>
<line x1="64.50" y1="291.5" x2="64.50" y2="297.7" stroke="#000" stroke-width="0.75"/>
<text x="64.50" y="314.5" font-size="10" text-anchor="middle">0.0</text>
<line x1="46.5" y1="281.60" x2="40.3" y2="281.60" stroke="#000" stroke-width="0.75"/>
<text transform="translate(31.7 281.60) rotate(-90)" font-size="10" text-anchor="middle">0.0</text>
<line x1="105.84" y1="291.5" x2="105.84" y2="297.7" stroke="#000" stroke-width="0.75"/>
<text x="105.84" y="314.5" font-size="10" text-anchor="middle">0.5</text>
<line x1="46.5" y1="240.26" x2="40.3" y2="240.26" stroke="#000" stroke-width="0.75"/>
<text transform="translate(31.7 240.26) rotate(-90)" font-size="10" text-anchor="middle">0.5</text>
<line x1="147.18" y1="291.5" x2="147.18" y2="297.7" stroke="#000" stroke-width="0.75"/>
<text x="147.18" y="314.5" font-size="10" text-anchor="middle">1.0</text>
<line x1="46.5" y1="198.91" x2="40.3" y2="198.91" stroke="#000" stroke-width="0.75"/>
<text transform="translate(31.7 198.91) rotate(-90)" font-size="10" text-anchor="middle">1.0</text>
<line x1="188.52" y1="291.5" x2="188.52" y2="297.7" stroke="#000" stroke-width="0.75"/>
<text x="188.52" y="314.5" font-size="10" text-anchor="middle">1.5</text>
<line x1="46.5" y1="157.57" x2="40.3" y2="157.57" stroke="#000" stroke-width="0.75"/>
<text transform="translate(31.7 157.57) rotate(-90)" font-size="10" text-anchor="middle">1.5</text>
<line x1="229.86" y1="291.5" x2="229.86" y2="297.7" stroke="#000" stroke-width="0.75"/>
<text x="229.86" y="314.5" font-size="10" text-anchor="middle">2.0</text>
<line x1="46.5" y1="116.22" x2="40.3" y2="116.22" stroke="#000" stroke-width="0.75"/>
<text transform="translate(31.7 116.22) rotate(-90)" font-size="10" text-anchor="middle">2.0</text>
<line x1="271.20" y1="291.5" x2="271.20" y2="297.7" stroke="#000" stroke-width="0.75"/>
<text x="271.20" y="314.5" font-size="10" text-anchor="middle">2.5</text>
<line x1="46.5" y1="74.88" x2="40.3" y2="74.88" stroke="#000" stroke-width="0.75"/>
<text transform="translate(31.7 74.88) rotate(-90)" font-size="10" text-anchor="middle">2.5</text>
<line x1="312.54" y1="291.5" x2="312.54" y2="297.7" stroke="#000" stroke-width="0.75"/>
<text x="312.54" y="314.5" font-size="10" text-anchor="middle">3.0</text>
<line x1="46.5" y1="33.53" x2="40.3" y2="33.53" stroke="#000" stroke-width="0.75"/>
<text transform="translate(31.7 33.53) rotate(-90)" font-size="10" text-anchor="middle">3.0</text>
<line x1="417.50" y1="291.5" x2="417.50" y2="297.7" stroke="#000" stroke-width="0.75"/>
<text x="417.50" y="314.5" font-size="10" text-anchor="middle">0</text>
<line x1="399.5" y1="281.70" x2="393.3" y2="281.70" stroke="#000" stroke-width="0.75"/>
<text transform="translate(384.7 281.70) rotate(-90)" font-size="10" text-anchor="middle">0</text>
<line x1="479.68" y1="291.5" x2="479.68" y2="297.7" stroke="#000" stroke-width="0.75"/>
<text x="479.68" y="314.5" font-size="10" text-anchor="middle">1</text>
<line x1="399.5" y1="219.65" x2="393.3" y2="219.65" stroke="#000" stroke-width="0.75"/>
<text transform="translate(384.7 219.65) rotate(-90)" font-size="10" text-anchor="middle">1</text>
<line x1="541.86" y1="291.5" x2="541.86" y2="297.7" stroke="#000" stroke-width="0.75"/>
<text x="541.86" y="314.5" font-size="10" text-anchor="middle">2</text>
<line x1="399.5" y1="157.60" x2="393.3" y2="157.60" stroke="#000" stroke-width="0.75"/>
<text transform="translate(384.7 157.60) rotate(-90)" font-size="10" text-anchor="middle">2</text>
<line x1="604.04" y1="291.5" x2="604.04" y2="297.7" stroke="#000" stroke-width="0.75"/>
<text x="604.04" y="314.5" font-size="10" text-anchor="middle">3</text>
<line x1="399.5" y1="95.55" x2="393.3" y2="95.55" stroke="#000" stroke-width="0.75"/>
<text transform="translate(384.7 95.55) rotate(-90)" font-size="10" text-anchor="middle">3</text>
<line x1="666.22" y1="291.5" x2="666.22" y2="297.7" stroke="#000" stroke-width="0.75"/>
<text x="666.22" y="314.5" font-size="10" text-anchor="middle">4</text>
<line x1="399.5" y1="33.50" x2="393.3" y2="33.50" stroke="#000" stroke-width="0.75"/>
<text transform="translate(384.7 33.50) rotate(-90)" font-size="10" text-anchor="middle">4</text>
<text x="188.7" y="9.1" font-size="12.9" font-weight="bold" text-anchor="middle">(a) Stand fine loading</text>
<text x="541.9" y="9.1" font-size="12.9" font-weight="bold" text-anchor="middle">(b) Stand total loading</text>
<text x="74.3" y="336.8" font-size="10.5">W<tspan font-size="7.35" dy="2.2">fine</tspan><tspan dy="-2.2"> estimated from alternative models</tspan></text>
<text y="336.8" font-size="10.5"><tspan x="259.95" font-size="12">(</tspan><tspan x="264.10">kg</tspan><tspan x="276.50">·</tspan><tspan x="281.40">m</tspan><tspan x="289.50" font-size="7.35" dy="-4">−2</tspan><tspan x="298.70" dy="4" font-size="12">)</tspan></text>
<text x="427.1" y="336.8" font-size="10.5">W<tspan font-size="7.35" dy="2.2">total</tspan><tspan dy="-2.2"> estimated from alternative models</tspan></text>
<text y="336.8" font-size="10.5"><tspan x="613.75" font-size="12">(</tspan><tspan x="617.90">kg</tspan><tspan x="630.30">·</tspan><tspan x="635.20">m</tspan><tspan x="643.30" font-size="7.35" dy="-4">−2</tspan><tspan x="652.50" dy="4" font-size="12">)</tspan></text>
<text transform="translate(11 260.9) rotate(-90)" font-size="10.5">W<tspan font-size="7.35" dy="2.2">fine</tspan><tspan dy="-2.2"> as sum of individual biomass</tspan></text>
<text transform="translate(11 0) rotate(-90)" font-size="10.5"><tspan x="-95.95" font-size="12">(</tspan><tspan x="-91.80">kg</tspan><tspan x="-79.40">·</tspan><tspan x="-74.50">m</tspan><tspan x="-66.40" font-size="7.35" dy="-4">−2</tspan><tspan x="-57.20" dy="4" font-size="12">)</tspan></text>
<text transform="translate(360.9 262.8) rotate(-90)" font-size="10.5">W<tspan font-size="7.35" dy="2.2">total</tspan><tspan dy="-2.2"> as sum of individual biomass</tspan></text>
<text transform="translate(360.9 0) rotate(-90)" font-size="10.5"><tspan x="-95.15" font-size="12">(</tspan><tspan x="-91.00">kg</tspan><tspan x="-78.60">·</tspan><tspan x="-73.70">m</tspan><tspan x="-65.60" font-size="7.35" dy="-4">−2</tspan><tspan x="-56.40" dy="4" font-size="12">)</tspan></text>
<line x1="48.7" y1="36.35" x2="67.1" y2="36.35" stroke="#555" stroke-width="0.9" stroke-dasharray="3.4 1.7"/>
<circle cx="58.5" cy="36.35" r="2.25" fill="#cdcdcd" stroke="#222" stroke-width="0.9"/>
<line x1="48.7" y1="48.8" x2="67.1" y2="48.8" stroke="#555" stroke-width="0.9" stroke-dasharray="3.4 1.7"/>
<circle cx="58.5" cy="48.8" r="2.25" fill="#ff0000" stroke="#222" stroke-width="0.9"/>
<text x="77.7" y="40.4" font-size="10.5">This study from species-level data</text>
<text x="77.7" y="52.5" font-size="10.5">Fernandes et al. (2012) from stand-level data</text>
<line x1="401.7" y1="36.35" x2="420.1" y2="36.35" stroke="#555" stroke-width="0.9" stroke-dasharray="3.4 1.7"/>
<circle cx="411.5" cy="36.35" r="2.25" fill="#cdcdcd" stroke="#222" stroke-width="0.9"/>
<line x1="401.7" y1="48.8" x2="420.1" y2="48.8" stroke="#555" stroke-width="0.9" stroke-dasharray="3.4 1.7"/>
<circle cx="411.5" cy="48.8" r="2.25" fill="#ff0000" stroke="#222" stroke-width="0.9"/>
<text x="430.7" y="40.4" font-size="10.5">This study from species-level data</text>
<text x="430.7" y="52.5" font-size="10.6">Pasalodos-Tato et al. (2015) from stand-level data</text>
<circle cx="626.5" cy="228.80" r="2.5" fill="none" stroke="#333" stroke-width="0.8"/>
<text x="635.9" y="232.8" font-size="10.5">32t</text>
<rect x="624.20" y="239.22" width="4.6" height="4.6" fill="none" stroke="#333" stroke-width="0.8"/>
<text x="635.9" y="245.5" font-size="10.5">32h</text>
<path d="M626.5 251.14L629.6 254.24L626.5 257.34L623.4 254.24Z" fill="none" stroke="#333" stroke-width="0.8"/>
<text x="635.9" y="258.2" font-size="10.5">32ab/32u</text>
<path d="M626.5 263.46L629.53 268.71L623.47 268.71Z" fill="none" stroke="#333" stroke-width="0.8"/>
<text x="635.9" y="271.0" font-size="10.5">32x</text>
<path d="M626.5 283.18L629.53 277.93L623.47 277.93Z" fill="none" stroke="#333" stroke-width="0.8"/>
<text x="635.9" y="283.7" font-size="10.5">32w</text>
</svg>
</body></html>
